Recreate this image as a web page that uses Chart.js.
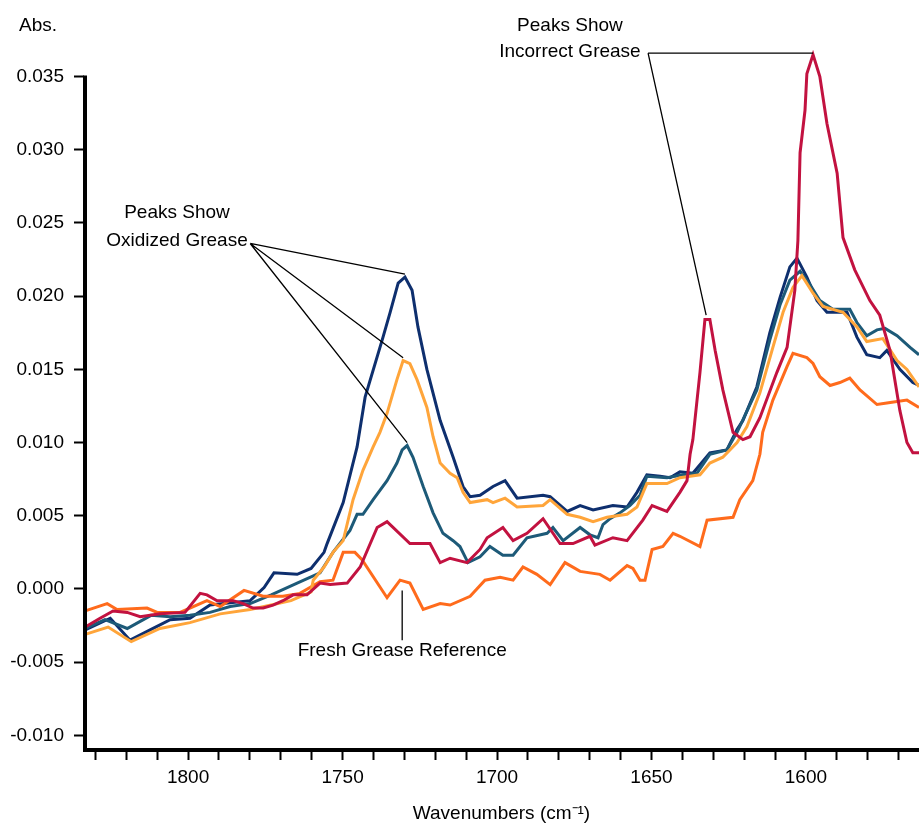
<!DOCTYPE html>
<html>
<head>
<meta charset="utf-8">
<script src="https://cdn.jsdelivr.net/npm/chart.js@4.4.1/dist/chart.umd.min.js"></script>
<style>
  html, body { margin: 0; padding: 0; background: #fff; }
  #wrap { width: 919px; height: 827px; position: relative; }
</style>
</head>
<body>
<div id="wrap"><canvas id="ftir"></canvas></div>
<script>
// FTIR spectra of grease samples, 1835–1563 cm-1

/* ===== DATA ===== */
const xTicks = [1570, 1580, 1590, 1600, 1610, 1620, 1630, 1640, 1650, 1660, 1670, 1680, 1690,
                1700, 1710, 1720, 1730, 1740, 1750, 1760, 1770, 1780, 1790, 1800, 1810, 1820, 1830];
const yTicks = [-0.010, -0.005, 0.000, 0.005, 0.010, 0.015, 0.020, 0.025, 0.030, 0.035];

// navy – oxidized sample 1
const navyWn  = [1833.3, 1825.2, 1818.8, 1812.3, 1805.8, 1799.4, 1792.9, 1779.9, 1775.4, 1772.2, 1764.7, 1760.2,
                 1756.0, 1755.0, 1749.8, 1745.3, 1742.7, 1736.9, 1734.6, 1732.0, 1729.8, 1727.5, 1725.6, 1722.7,
                 1718.4, 1714.2, 1711.0, 1708.7, 1705.5, 1701.3, 1697.4, 1693.5, 1685.1, 1682.8, 1677.3, 1673.1,
                 1668.9, 1662.5, 1657.9, 1654.7, 1651.5, 1647.2, 1644.0, 1640.8, 1636.6, 1631.1, 1625.6, 1622.3,
                 1620.4, 1615.9, 1611.7, 1608.4, 1605.2, 1602.9, 1599.7, 1596.4, 1593.2, 1586.7, 1583.5, 1580.3,
                 1576.1, 1573.8, 1569.6, 1565.4, 1563.4];
const navyAbs = [-0.0028, -0.0020, -0.0035, -0.0028, -0.0021, -0.0020, -0.0011, -0.0008, 0.0001, 0.0011, 0.0010, 0.0014,
                 0.0025, 0.0031, 0.0059, 0.0097, 0.0131, 0.0172, 0.0189, 0.0209, 0.0213, 0.0204, 0.0179, 0.0150,
                 0.0115, 0.0090, 0.0070, 0.0063, 0.0064, 0.0070, 0.0074, 0.0062, 0.0064, 0.0063, 0.0053, 0.0057,
                 0.0054, 0.0057, 0.0056, 0.0066, 0.0078, 0.0077, 0.0076, 0.0080, 0.0079, 0.0093, 0.0095, 0.0109,
                 0.0115, 0.0138, 0.0175, 0.0199, 0.0220, 0.0226, 0.0213, 0.0197, 0.0189, 0.0189, 0.0172, 0.0160,
                 0.0158, 0.0163, 0.0150, 0.0141, 0.0139];

// light orange – oxidized sample 2
const amberWn  = [1833.3, 1825.9, 1818.4, 1809.1, 1799.4, 1789.6, 1779.9, 1773.1, 1766.7, 1760.2, 1759.5, 1756.0,
                  1753.1, 1749.8, 1746.6, 1743.4, 1740.1, 1737.9, 1735.6, 1732.4, 1730.4, 1728.2, 1725.9, 1722.7,
                  1720.7, 1718.4, 1715.2, 1712.9, 1711.0, 1708.7, 1703.2, 1701.3, 1697.4, 1693.5, 1685.1, 1682.8,
                  1677.3, 1673.1, 1668.9, 1664.4, 1657.9, 1654.7, 1651.5, 1645.0, 1640.8, 1634.3, 1631.1, 1626.9,
                  1622.3, 1619.1, 1614.9, 1610.7, 1607.4, 1604.2, 1601.3, 1597.7, 1594.5, 1588.0, 1583.5, 1580.3,
                  1575.1, 1570.5, 1567.3, 1563.4];
const amberAbs = [-0.0031, -0.0026, -0.0036, -0.0027, -0.0023, -0.0017, -0.0014, -0.0011, -0.0008, -0.0002, 0.0006, 0.0015,
                  0.0025, 0.0033, 0.0061, 0.0081, 0.0097, 0.0107, 0.0120, 0.0143, 0.0156, 0.0154, 0.0143, 0.0124,
                  0.0104, 0.0086, 0.0079, 0.0076, 0.0066, 0.0059, 0.0061, 0.0059, 0.0062, 0.0056, 0.0057, 0.0061,
                  0.0051, 0.0049, 0.0046, 0.0049, 0.0051, 0.0056, 0.0072, 0.0072, 0.0076, 0.0078, 0.0086, 0.0090,
                  0.0100, 0.0111, 0.0134, 0.0165, 0.0189, 0.0206, 0.0214, 0.0202, 0.0193, 0.0189, 0.0179, 0.0169,
                  0.0171, 0.0156, 0.0150, 0.0138];

// teal – oxidized sample 3
const tealWn  = [1833.3, 1826.9, 1819.7, 1812.0, 1805.8, 1799.4, 1792.9, 1786.4, 1779.9, 1773.1, 1764.7, 1757.3,
                 1753.1, 1747.6, 1745.3, 1743.4, 1740.1, 1735.6, 1732.4, 1730.7, 1729.1, 1727.2, 1723.9, 1720.7,
                 1717.5, 1714.2, 1712.0, 1709.4, 1705.5, 1702.3, 1698.1, 1694.8, 1690.3, 1683.8, 1681.9, 1678.6,
                 1673.1, 1669.9, 1667.3, 1665.7, 1663.4, 1660.2, 1657.0, 1653.7, 1651.5, 1645.0, 1639.8, 1635.3,
                 1631.1, 1625.6, 1622.3, 1615.9, 1611.7, 1608.4, 1605.2, 1601.9, 1598.7, 1595.5, 1591.3, 1585.8,
                 1583.5, 1580.3, 1577.0, 1574.4, 1570.5, 1566.3, 1563.4];
const tealAbs = [-0.0027, -0.0021, -0.0027, -0.0018, -0.0019, -0.0018, -0.0016, -0.0012, -0.0010, -0.0004, 0.0004, 0.0011,
                 0.0025, 0.0040, 0.0051, 0.0051, 0.0061, 0.0074, 0.0086, 0.0095, 0.0098, 0.0090, 0.0070, 0.0052,
                 0.0038, 0.0033, 0.0029, 0.0018, 0.0022, 0.0029, 0.0023, 0.0023, 0.0035, 0.0038, 0.0042, 0.0033,
                 0.0042, 0.0037, 0.0035, 0.0044, 0.0048, 0.0052, 0.0057, 0.0064, 0.0077, 0.0076, 0.0078, 0.0079,
                 0.0092, 0.0095, 0.0107, 0.0136, 0.0170, 0.0194, 0.0211, 0.0217, 0.0208, 0.0197, 0.0191, 0.0191,
                 0.0182, 0.0173, 0.0177, 0.0178, 0.0173, 0.0165, 0.0160];

// crimson – incorrect grease
const crimsonWn  = [1833.3, 1828.5, 1824.3, 1819.7, 1815.5, 1809.1, 1801.0, 1796.1, 1793.9, 1790.6, 1785.4, 1782.2,
                    1779.0, 1775.7, 1772.5, 1769.3, 1766.0, 1761.5, 1757.3, 1754.0, 1748.5, 1744.3, 1738.8, 1735.6,
                    1728.2, 1721.7, 1718.4, 1715.2, 1709.7, 1705.5, 1703.2, 1698.1, 1694.8, 1690.3, 1685.1, 1679.6,
                    1675.4, 1669.9, 1668.3, 1662.5, 1657.9, 1652.8, 1649.8, 1645.0, 1640.8, 1638.5, 1637.5, 1636.6,
                    1634.3, 1632.7, 1631.1, 1629.4, 1626.9, 1623.6, 1620.4, 1618.1, 1614.9, 1609.4, 1606.1, 1603.6,
                    1602.6, 1601.9, 1600.3, 1599.7, 1597.7, 1595.5, 1593.2, 1589.9, 1588.0, 1584.2, 1579.3, 1576.1,
                    1572.8, 1569.6, 1567.3, 1565.4, 1563.4];
const crimsonAbs = [-0.0026, -0.0020, -0.0015, -0.0016, -0.0019, -0.0017, -0.0016, -0.0003, -0.0004, -0.0008, -0.0008, -0.0010,
                    -0.0013, -0.0013, -0.0011, -0.0008, -0.0004, -0.0004, 0.0004, 0.0003, 0.0004, 0.0015, 0.0042, 0.0046,
                    0.0031, 0.0031, 0.0018, 0.0021, 0.0018, 0.0027, 0.0035, 0.0042, 0.0033, 0.0038, 0.0048, 0.0031,
                    0.0031, 0.0036, 0.0030, 0.0035, 0.0033, 0.0047, 0.0057, 0.0053, 0.0066, 0.0074, 0.0092, 0.0102,
                    0.0148, 0.0184, 0.0184, 0.0163, 0.0136, 0.0107, 0.0102, 0.0104, 0.0117, 0.0148, 0.0165, 0.0204,
                    0.0238, 0.0298, 0.0327, 0.0352, 0.0365, 0.0350, 0.0318, 0.0284, 0.0240, 0.0218, 0.0197, 0.0187,
                    0.0163, 0.0122, 0.0100, 0.0093, 0.0093];

// dark orange – fresh grease reference
const freshWn  = [1833.3, 1826.2, 1823.0, 1813.3, 1810.0, 1802.6, 1793.9, 1789.6, 1781.9, 1775.7, 1769.3, 1763.8,
                  1757.3, 1753.1, 1749.8, 1746.0, 1743.7, 1735.6, 1731.4, 1728.2, 1723.9, 1718.4, 1715.2, 1708.7,
                  1703.9, 1699.0, 1694.8, 1691.6, 1687.1, 1682.8, 1678.0, 1673.1, 1666.7, 1663.4, 1657.9, 1656.0,
                  1653.7, 1652.1, 1649.8, 1646.3, 1643.0, 1640.8, 1634.3, 1632.0, 1623.6, 1621.4, 1617.2, 1614.9,
                  1614.0, 1610.7, 1606.1, 1604.2, 1599.7, 1597.7, 1595.5, 1592.2, 1589.0, 1585.8, 1582.5, 1577.0,
                  1573.8, 1567.3, 1563.4];
const freshAbs = [-0.0015, -0.0010, -0.0014, -0.0013, -0.0016, -0.0016, -0.0008, -0.0012, -0.0001, -0.0005, -0.0005, -0.0003,
                  0.0005, 0.0006, 0.0025, 0.0025, 0.0020, -0.0006, 0.0006, 0.0004, -0.0014, -0.0010, -0.0011, -0.0005,
                  0.0006, 0.0008, 0.0006, 0.0015, 0.0010, 0.0003, 0.0018, 0.0012, 0.0010, 0.0006, 0.0016, 0.0014,
                  0.0006, 0.0006, 0.0027, 0.0029, 0.0038, 0.0036, 0.0029, 0.0047, 0.0049, 0.0061, 0.0074, 0.0092,
                  0.0107, 0.0129, 0.0152, 0.0161, 0.0158, 0.0154, 0.0145, 0.0139, 0.0141, 0.0144, 0.0136, 0.0126,
                  0.0127, 0.0129, 0.0124];

/* ===== NOTES (data coordinates) ===== */
const notes = [
  { text: ['Peaks Show', 'Oxidized Grease'], wn: 1803.6, abs: [0.0257, 0.0238],
    from: [1779.9, 0.0236], to: [[1729.8, 0.0215], [1730.4, 0.0158], [1729.1, 0.0100]] },
  { text: ['Peaks Show', 'Incorrect Grease'], wn: 1676.4, abs: [0.0385, 0.0367],
    from: [1651.1, 0.0366], to: [[1597.7, 0.0366], [1632.3, 0.0187]] },
  { text: ['Fresh Grease Reference'], wn: 1730.7, abs: [-0.0042],
    from: [1730.7, -0.0035], to: [[1730.7, -0.0001]] }
];

const FONT = '"Liberation Sans", Arial, Helvetica, sans-serif';
const pts = (wn, ab) => wn.map((w, i) => ({ x: w, y: ab[i] }));

const overlay = {
  id: 'overlay',
  afterDatasetsDraw(chart) {
    const { ctx, scales: { x, y } } = chart;
    ctx.save();
    // axis lines
    ctx.strokeStyle = '#000';
    ctx.lineWidth = 4;
    ctx.beginPath();
    ctx.moveTo(x.left + 1, y.getPixelForValue(0.035) - 1);
    ctx.lineTo(x.left + 1, y.bottom + 2);
    ctx.moveTo(x.left - 1, y.bottom);
    ctx.lineTo(x.right, y.bottom);
    ctx.stroke();

    // leader lines + labels
    ctx.lineWidth = 1.3;
    ctx.fillStyle = '#000';
    ctx.font = '19px ' + FONT;
    ctx.textAlign = 'center';
    ctx.textBaseline = 'middle';
    notes.forEach(n => {
      ctx.beginPath();
      n.to.forEach(t => {
        ctx.moveTo(x.getPixelForValue(n.from[0]), y.getPixelForValue(n.from[1]));
        ctx.lineTo(x.getPixelForValue(t[0]), y.getPixelForValue(t[1]));
      });
      ctx.stroke();
      n.text.forEach((s, i) => ctx.fillText(s, x.getPixelForValue(n.wn), y.getPixelForValue(n.abs[i])));
    });

    // axis titles
    ctx.textAlign = 'left';
    ctx.fillText('Abs.', 19, 26);
    ctx.textAlign = 'center';
    ctx.fillText('Wavenumbers (cm\u207B\u00B9)', (x.left + x.right) / 2, 814);
    ctx.restore();
  }
};

new Chart(document.getElementById('ftir'), {
  type: 'line',
  data: {
    datasets: [
      { data: pts(crimsonWn, crimsonAbs), borderColor: '#c21240' },
      { data: pts(amberWn, amberAbs),     borderColor: '#ffa53a' },
      { data: pts(freshWn, freshAbs),     borderColor: '#ff6b1c' },
      { data: pts(tealWn, tealAbs),       borderColor: '#1d5a78' },
      { data: pts(navyWn, navyAbs),       borderColor: '#0e2f6e' }
    ].map(d => Object.assign(d, { borderWidth: 3, pointRadius: 0, tension: 0, fill: false }))
  },
  options: {
    responsive: true,
    maintainAspectRatio: false,
    animation: false,
    layout: { padding: { top: 40, right: 0, left: 0, bottom: 0 } },
    plugins: { legend: { display: false }, tooltip: { enabled: false } },
    scales: {
      x: {
        type: 'linear', reverse: true, min: 1563.4, max: 1833.7,
        border: { display: false },
        grid: { drawOnChartArea: false, drawTicks: true, tickLength: 10, tickWidth: 2, tickColor: '#000' },
        afterBuildTicks: s => { s.ticks = xTicks.map(v => ({ value: v })); },
        afterFit: s => { s.height = 77; },
        ticks: {
          autoSkip: false, maxRotation: 0, padding: 6, color: '#000',
          font: { family: FONT, size: 19 },
          callback: v => (v % 50 === 0 ? String(v) : '')
        }
      },
      y: {
        type: 'linear', min: -0.011, max: 0.0375,
        border: { display: false },
        grid: { drawOnChartArea: false, drawTicks: true, tickLength: 10, tickWidth: 2, tickColor: '#000' },
        afterBuildTicks: s => { s.ticks = yTicks.map(v => ({ value: v })); },
        afterFit: s => { s.width = 84; },
        ticks: {
          padding: 10, color: '#000',
          font: { family: FONT, size: 19 },
          callback: v => v.toFixed(3)
        }
      }
    }
  },
  plugins: [overlay]
});
</script>
</body>
</html>
